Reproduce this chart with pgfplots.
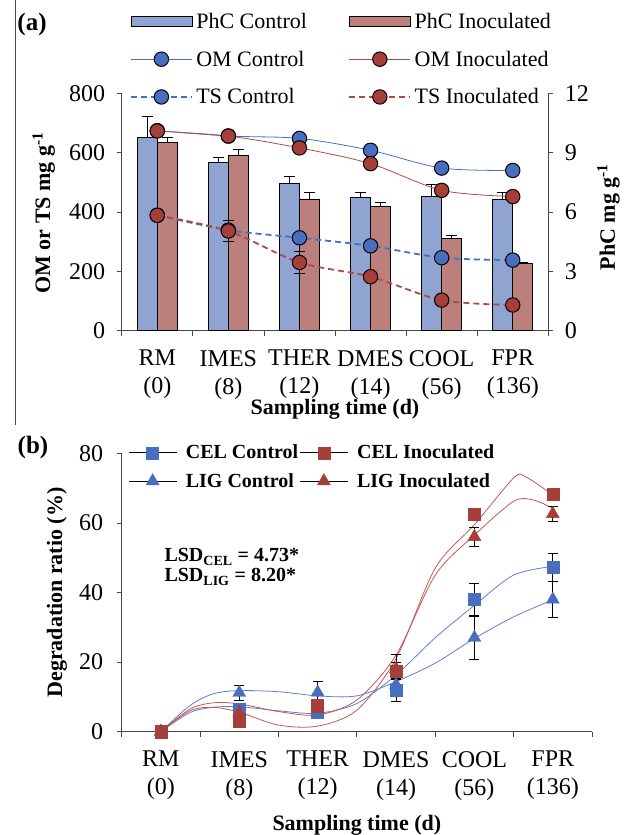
\documentclass[border=0pt]{standalone}
\usepackage{fontspec}
\setmainfont{Liberation Serif}
\usepackage{pgfplots}
\usepackage{pgfplotstable}
\pgfplotsset{compat=1.18}
\definecolor{barblue}{RGB}{143,164,208}
\definecolor{barred}{RGB}{188,128,124}
\definecolor{lblue}{RGB}{68,114,196}
\definecolor{lred}{RGB}{180,72,68}
\definecolor{mblue}{RGB}{72,110,192}
\definecolor{mred}{RGB}{166,62,58}
\definecolor{cblue}{RGB}{95,128,205}
\definecolor{cred}{RGB}{192,90,86}
\definecolor{spine}{RGB}{70,70,70}

\pgfplotstableread{
x pc pce pi pie
0 9.76 1.09 9.52 0.24
1 8.51 0.24 8.86 0.29
2 7.43 0.35 6.66 0.35
3 6.72 0.29 6.30 0.17
4 6.79 0.62 4.68 0.13
5 6.66 0.35 3.40 0.03
}\phc
\pgfplotstableread{
x omc omce omi omie tsc tsce tsi tsie
0 674 0 673 0 389 0 389 0
1 656 0 656 0 339 8 336 36
2 648 0 616 0 313 0 230 38
3 608 0 563 0 286 0 182 0
4 548 0 473 0 246 15 103 10
5 540 8 452 0 238 0 86.5 5
}\omts
\pgfplotstableread{
x celc celce celi celie ligc ligce ligi ligie
0 0 0 0 0 0 0 0 0
1 6.5 1.5 2.9 0.01 11.2 2.2 5.5 1.5
2 5.5 1.0 7.7 3.2 11.3 3.0 6.5 1.5
3 12 3.4 17.5 4.8 13.5 1.5 18 2
4 38 4.5 62.5 0.01 27 6.2 56 2.7
5 47.3 4 68.3 0.01 38 5.2 62.6 2.2
}\deg
% traced trend curves (index, value)
\pgfplotstableread{
x y
0 0
0.37 7.5
0.67 10.9
1.0 11.8
1.5 11.5
2.0 10.3
2.5 10.3
3.0 14.4
3.5 19.7
4.0 26.8
4.5 33
5.0 37.9
}\cligc
\pgfplotstableread{
x y
0 0
0.37 5.5
0.67 7.0
1.0 7.2
1.5 6.0
2.0 5.3
2.5 8.1
3.0 16.3
3.5 27.0
4.0 36.3
4.5 45
5.0 47.5
}\ccelc
\pgfplotstableread{
x y
0 0
0.37 6.5
0.67 8.3
1.0 8.0
1.5 5.8
2.0 4.8
2.5 9.1
3.0 22
3.5 45
4.0 56.5
4.5 66.2
4.75 66.6
5.0 64.2
}\cligi
\pgfplotstableread{
x y
0 0
0.37 6.0
0.67 7.0
1.0 5.6
1.5 1.9
2.0 1.6
2.5 6.2
3.0 21
3.5 47
4.0 59.5
4.5 72.9
4.65 73.3
5.0 68
}\cceli

\pgfplotsset{
  common/.style={
    scale only axis,
    xmin=-0.5, xmax=5.5,
    tick align=outside, major tick length=5pt,
    axis line style={spine, line width=0.8pt},
    tick style={spine, line width=0.8pt},
    /pgf/number format/assume math mode=true,
    tick label style={font=\fontsize{24}{28}\selectfont},
    xtick={-0.5,0.5,...,5.5}, xticklabels={},
    extra x ticks={0,1,2,3,4,5},
    extra x tick labels={{RM\\(0)},{IMES\\(8)},{THER\\(12)},{DMES\\(14)},{COOL\\(56)},{FPR\\(136)}},
    extra x tick style={major tick length=0pt, tick label style={align=center, yshift=-16pt}},
  },
  ebplus/.style={error bars/.cd, y dir=plus, y explicit,
    error bar style={black, line width=0.8pt},
    error mark options={rotate=90, mark size=5.5pt, black, line width=0.8pt}},
  ebboth/.style={error bars/.cd, y dir=both, y explicit,
    error bar style={black, line width=0.8pt, solid},
    error mark options={rotate=90, mark size=5.5pt, black, line width=0.8pt, solid}},
  ebb/.style={error bars/.cd, y dir=both, y explicit,
    error bar style={black, line width=0.9pt},
    error mark options={rotate=90, mark size=5pt, black, line width=0.9pt}},
}
\newcommand{\lblfont}{\bfseries\fontsize{22}{26}\selectfont}

\begin{document}
\begin{tikzpicture}
\path[use as bounding box] (0,0) rectangle (634pt,835pt);
\draw[spine, line width=0.8pt] (15.7pt,835pt) -- (15.7pt,410pt);
\node[font=\bfseries\fontsize{25}{28}\selectfont] at (32pt,811pt) {(a)};
\node[font=\bfseries\fontsize{25}{28}\selectfont] at (33pt,388pt) {(b)};

% ---------- panel (a): bars on right axis ----------
\begin{axis}[common,
  at={(121.7pt,504.3pt)}, anchor=south west,
  width=426.6pt, height=237.4pt,
  ymin=0, ymax=12, ytick={0,3,...,12},
  yticklabel style={xshift=8pt},
  axis y line*=right, axis x line*=bottom,
  ybar=0pt, bar width=20pt,
  xlabel={Sampling time (d)},
  ylabel={PhC mg g\textsuperscript{-1}},
  every axis x label/.style={at={(axis description cs:0.5,-0.333)}, anchor=center, font=\lblfont},
  every axis y label/.style={at={(axis description cs:1.141,0.479)}, rotate=90, anchor=center, font=\lblfont},
]
\addplot[fill=barblue, draw=black, line width=0.7pt, ebplus]
  table[x=x, y=pc, y error=pce]{\phc};
\addplot[fill=barred, draw=black, line width=0.7pt, ebplus]
  table[x=x, y=pi, y error=pie]{\phc};
\end{axis}

% ---------- panel (a): lines on left axis ----------
\begin{axis}[common,
  at={(121.7pt,504.3pt)}, anchor=south west,
  width=426.6pt, height=237.4pt,
  ymin=0, ymax=800, ytick={0,200,...,800},
  yticklabel style={xshift=-8pt},
  axis y line*=left, axis x line=none,
  ylabel={OM or TS mg g\textsuperscript{-1}},
  every axis y label/.style={at={(axis description cs:-0.183,0.496)}, rotate=90, anchor=center, font=\lblfont},
  legend columns=2,
  legend cell align=left,
  legend style={draw=none, fill=none, at={(0.517,1.1437)}, anchor=center,
    font=\fontsize{22}{26}\selectfont, row sep=17pt,
    nodes={inner xsep=3.5pt, inner ysep=2pt},
    /tikz/every even column/.append style={column sep=38pt}},
  legend image code/.code={\draw[mark repeat=2,mark phase=2,#1] plot coordinates {(0pt,0pt) (30.5pt,0pt) (61pt,0pt)};},
]
\addlegendimage{legend image code/.code={\draw[fill=barblue, draw=black, line width=0.7pt] (0pt,-5pt) rectangle (61pt,5pt);}}
\addlegendentry{PhC Control}
\addlegendimage{legend image code/.code={\draw[fill=barred, draw=black, line width=0.7pt] (0pt,-5pt) rectangle (61pt,5pt);}}
\addlegendentry{PhC Inoculated}
\addplot[lblue, line width=0.8pt, smooth, mark=*, mark size=7.2pt,
  mark options={fill=mblue, draw=black, line width=1pt}, ebboth]
  table[x=x, y=omc, y error=omce]{\omts};
\addlegendentry{OM Control}
\addplot[lred, line width=0.8pt, smooth, mark=*, mark size=7.2pt,
  mark options={fill=mred, draw=black, line width=1pt}, ebboth]
  table[x=x, y=omi, y error=omie]{\omts};
\addlegendentry{OM Inoculated}
\addplot[lblue, line width=1.8pt, dash pattern=on 6pt off 4pt, smooth, mark=*, mark size=7.2pt,
  mark options={fill=mblue, draw=black, line width=1pt, solid}, ebboth]
  table[x=x, y=tsc, y error=tsce]{\omts};
\addlegendentry{TS Control}
\addplot[lred, line width=1.8pt, dash pattern=on 6pt off 4pt, smooth, mark=*, mark size=7.2pt,
  mark options={fill=mred, draw=black, line width=1pt, solid}, ebboth]
  table[x=x, y=tsi, y error=tsie]{\omts};
\addlegendentry{TS Inoculated}
\end{axis}

% ---------- panel (b) ----------
\begin{axis}[common,
  at={(121.7pt,103.3pt)}, anchor=south west,
  width=470.3pt, height=278.4pt,
  ymin=0, ymax=80, ytick={0,20,...,80},
  yticklabel style={xshift=-10pt},
  axis y line*=left, axis x line*=bottom,
  xlabel={Sampling time (d)},
  ylabel={Degradation ratio (\%)},
  every axis x label/.style={at={(axis description cs:0.5,-0.335)}, anchor=center, font=\lblfont},
  every axis y label/.style={at={(axis description cs:-0.138,0.5)}, rotate=90, anchor=center, font=\lblfont},
  legend columns=2,
  legend cell align=left,
  legend style={draw=none, fill=none, at={(0.404,0.951)}, anchor=center,
    font=\bfseries\fontsize{20}{24}\selectfont, row sep=9pt,
    nodes={inner xsep=1pt, inner ysep=2pt},
    /tikz/every even column/.append style={column sep=0pt}},
  legend image code/.code={\draw[black, line width=1.2pt] (0pt,0pt) -- (48pt,0pt);
     \draw[mark repeat=2,mark phase=2,#1] plot coordinates {(0pt,0pt) (24pt,0pt) (48pt,0pt)};
     \path (56pt,0pt);},
]
\addplot[cblue, line width=0.8pt, smooth, forget plot] table[x=x,y=y]{\ccelc};
\addplot[cblue, line width=0.8pt, smooth, forget plot] table[x=x,y=y]{\cligc};
\addplot[cred, line width=0.8pt, smooth, forget plot] table[x=x,y=y]{\cceli};
\addplot[cred, line width=0.8pt, smooth, forget plot] table[x=x,y=y]{\cligi};
\addplot[only marks, mark=square*, mark size=6pt, mark options={fill=mblue, draw=mblue}, ebb]
  table[x=x, y=celc, y error=celce]{\deg};
\addlegendentry{CEL Control}
\addplot[only marks, mark=square*, mark size=6pt, mark options={fill=mred, draw=mred}, ebb]
  table[x=x, y=celi, y error=celie]{\deg};
\addlegendentry{CEL Inoculated}
\addplot[only marks, mark=triangle*, mark size=7.5pt, mark options={fill=mblue, draw=mblue}, ebb]
  table[x=x, y=ligc, y error=ligce]{\deg};
\addlegendentry{LIG Control}
\addplot[only marks, mark=triangle*, mark size=7.5pt, mark options={fill=mred, draw=mred}, ebb]
  table[x=x, y=ligi, y error=ligie]{\deg};
\addlegendentry{LIG Inoculated}
\end{axis}

\node[anchor=west, align=left, font=\bfseries\fontsize{20}{20}\selectfont] at (161pt,268pt)
  {LSD\textsubscript{CEL} = 4.73*\\LSD\textsubscript{LIG} = 8.20*};
\end{tikzpicture}
\end{document}
